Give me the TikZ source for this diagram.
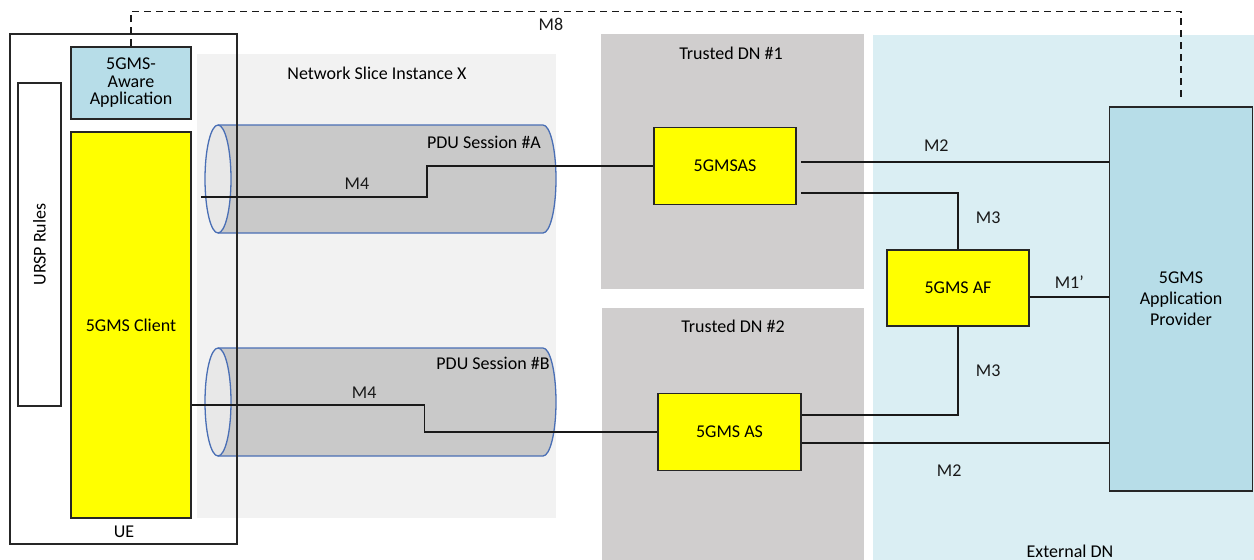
\documentclass[tikz,border=0pt]{standalone}
\usepackage{fontspec}
\setmainfont{Carlito}
\usetikzlibrary{positioning}
\definecolor{appblue}{HTML}{B7DDE8}
\definecolor{extblue}{HTML}{DAEEF3}
\definecolor{dngrey}{HTML}{D0CECE}
\definecolor{slicegrey}{HTML}{F2F2F2}
\definecolor{pipegrey}{HTML}{C9C9C9}
\definecolor{pipeedge}{HTML}{4A6FB5}
\definecolor{boxyellow}{HTML}{FFFF00}
\newcommand\pdupipe[1]{% y of the axis
  \filldraw[pipebody] (218,{#1-54}) -- (543,{#1-54})
    arc[start angle=90, end angle=-90, x radius=13pt, y radius=54pt]
    -- (218,{#1+54});
  \filldraw[pipeend] (218,#1) ellipse[x radius=13pt, y radius=54pt];
}

\begin{document}
\begin{tikzpicture}[x=1pt,y=-1pt]
  \tikzset{every node/.style={font=\fontsize{18}{21}\selectfont}}
  \tikzset{box/.style={draw=black!85, line width=1.6pt, inner sep=0pt}}
  \tikzset{pipebody/.style={fill=pipegrey, draw=pipeedge, line width=1.3pt}}
  \tikzset{pipeend/.style={fill=black!9, draw=pipeedge, line width=1.3pt}}
  \tikzset{line/.style={draw, black!90, line width=1.3pt}}
  \tikzset{dashline/.style={draw, black!90, line width=1.3pt, dash pattern=on 7pt off 5pt}}

  \useasboundingbox (0,0) rectangle (1254,560);

  \fill[slicegrey] (197,54) rectangle (556,518);
  \fill[dngrey] (601,34) rectangle (864,289);
  \fill[dngrey] (602,308) rectangle (864,560);
  \fill[extblue] (873,35) rectangle (1254,560);

  \pdupipe{179}
  \pdupipe{402}

  \node[box, line width=1.3pt, minimum width=227pt, minimum height=510pt] (ue) at (123.5,289) {};
  \node (uelbl) at (124,532) {UE};
  \node[box, fill=white, minimum width=43pt, minimum height=323pt] (ursp) at (39.5,244.5) {};
  \node[rotate=90] (ursplbl) at (ursp.center) {URSP Rules};
  \node[box, fill=appblue, minimum width=120pt, minimum height=72pt, align=center,
        font=\fontsize{18}{17.5}\selectfont] (app) at (131,83) {5GMS-\\Aware\\Application};
  \node[box, fill=boxyellow, minimum width=120pt, minimum height=386pt] (client) at (131,325) {5GMS Client};

  \node (slicelbl) at (377,73) {Network Slice Instance X};
  \node (dn1lbl) at (731,53) {Trusted DN \#1};
  \node (dn2lbl) at (733,326) {Trusted DN \#2};
  \node (extlbl) at (1070,551) {External DN};
  \node (pdualbl) at (484,142) {PDU Session \#A};
  \node (pdublbl) at (493,363) {PDU Session \#B};

  \node[box, fill=boxyellow, minimum width=142pt, minimum height=77pt] (as1) at (725,166) {5GMSAS};
  \node[box, fill=boxyellow, minimum width=143pt, minimum height=77pt] (as2) at (729.5,432) {5GMS AS};
  \node[box, fill=boxyellow, minimum width=142pt, minimum height=76pt] (af) at (958,288) {5GMS AF};
  \node[box, fill=appblue, minimum width=143pt, minimum height=384pt, align=center] (ap) at (1181,299) {5GMS\\Application\\Provider};

  \coordinate (m4a) at (201,197);
  \coordinate (m4b) at ([yshift=-80pt]client.east);
  \path[line] (m4a) -- ++(226,0) node[pos=0.69, above=4pt] {M4} |- (as1.west);
  \path[line] (m4b) -- ++(233,0) node[pos=0.74, above=3pt] {M4} |- (as2.west);

  \coordinate (m2a) at ([xshift=4pt,yshift=4pt]as1.east);
  \coordinate (m3a) at ([xshift=4pt,yshift=-27pt]as1.east);
  \path[line] (m2a) -- (m2a -| ap.west) node[pos=0.44, above=7pt] {M2};
  \path[line] (m3a) -| (af.north) node[pos=0.72, right=14pt] {M3};

  \coordinate (m1a) at ([yshift=-9pt]af.east);
  \path[line] (m1a) -- (m1a -| ap.west) node[midway, above=5pt] {M1’};

  \coordinate (m3b) at ([yshift=17pt]as2.east);
  \coordinate (m2b) at ([yshift=-11pt]as2.east);
  \path[line] (af.south) |- (m3b) node[pos=0.25, right=14pt] {M3};
  \path[line] (m2b) -- (m2b -| ap.west) node[pos=0.48, below=18pt] {M2};

  \path[dashline] (app.north) -- ++(0,-35) -| ([yshift=5pt]ap.north) node[pos=0.2, below=3pt] {M8};

\end{tikzpicture}
\end{document}
